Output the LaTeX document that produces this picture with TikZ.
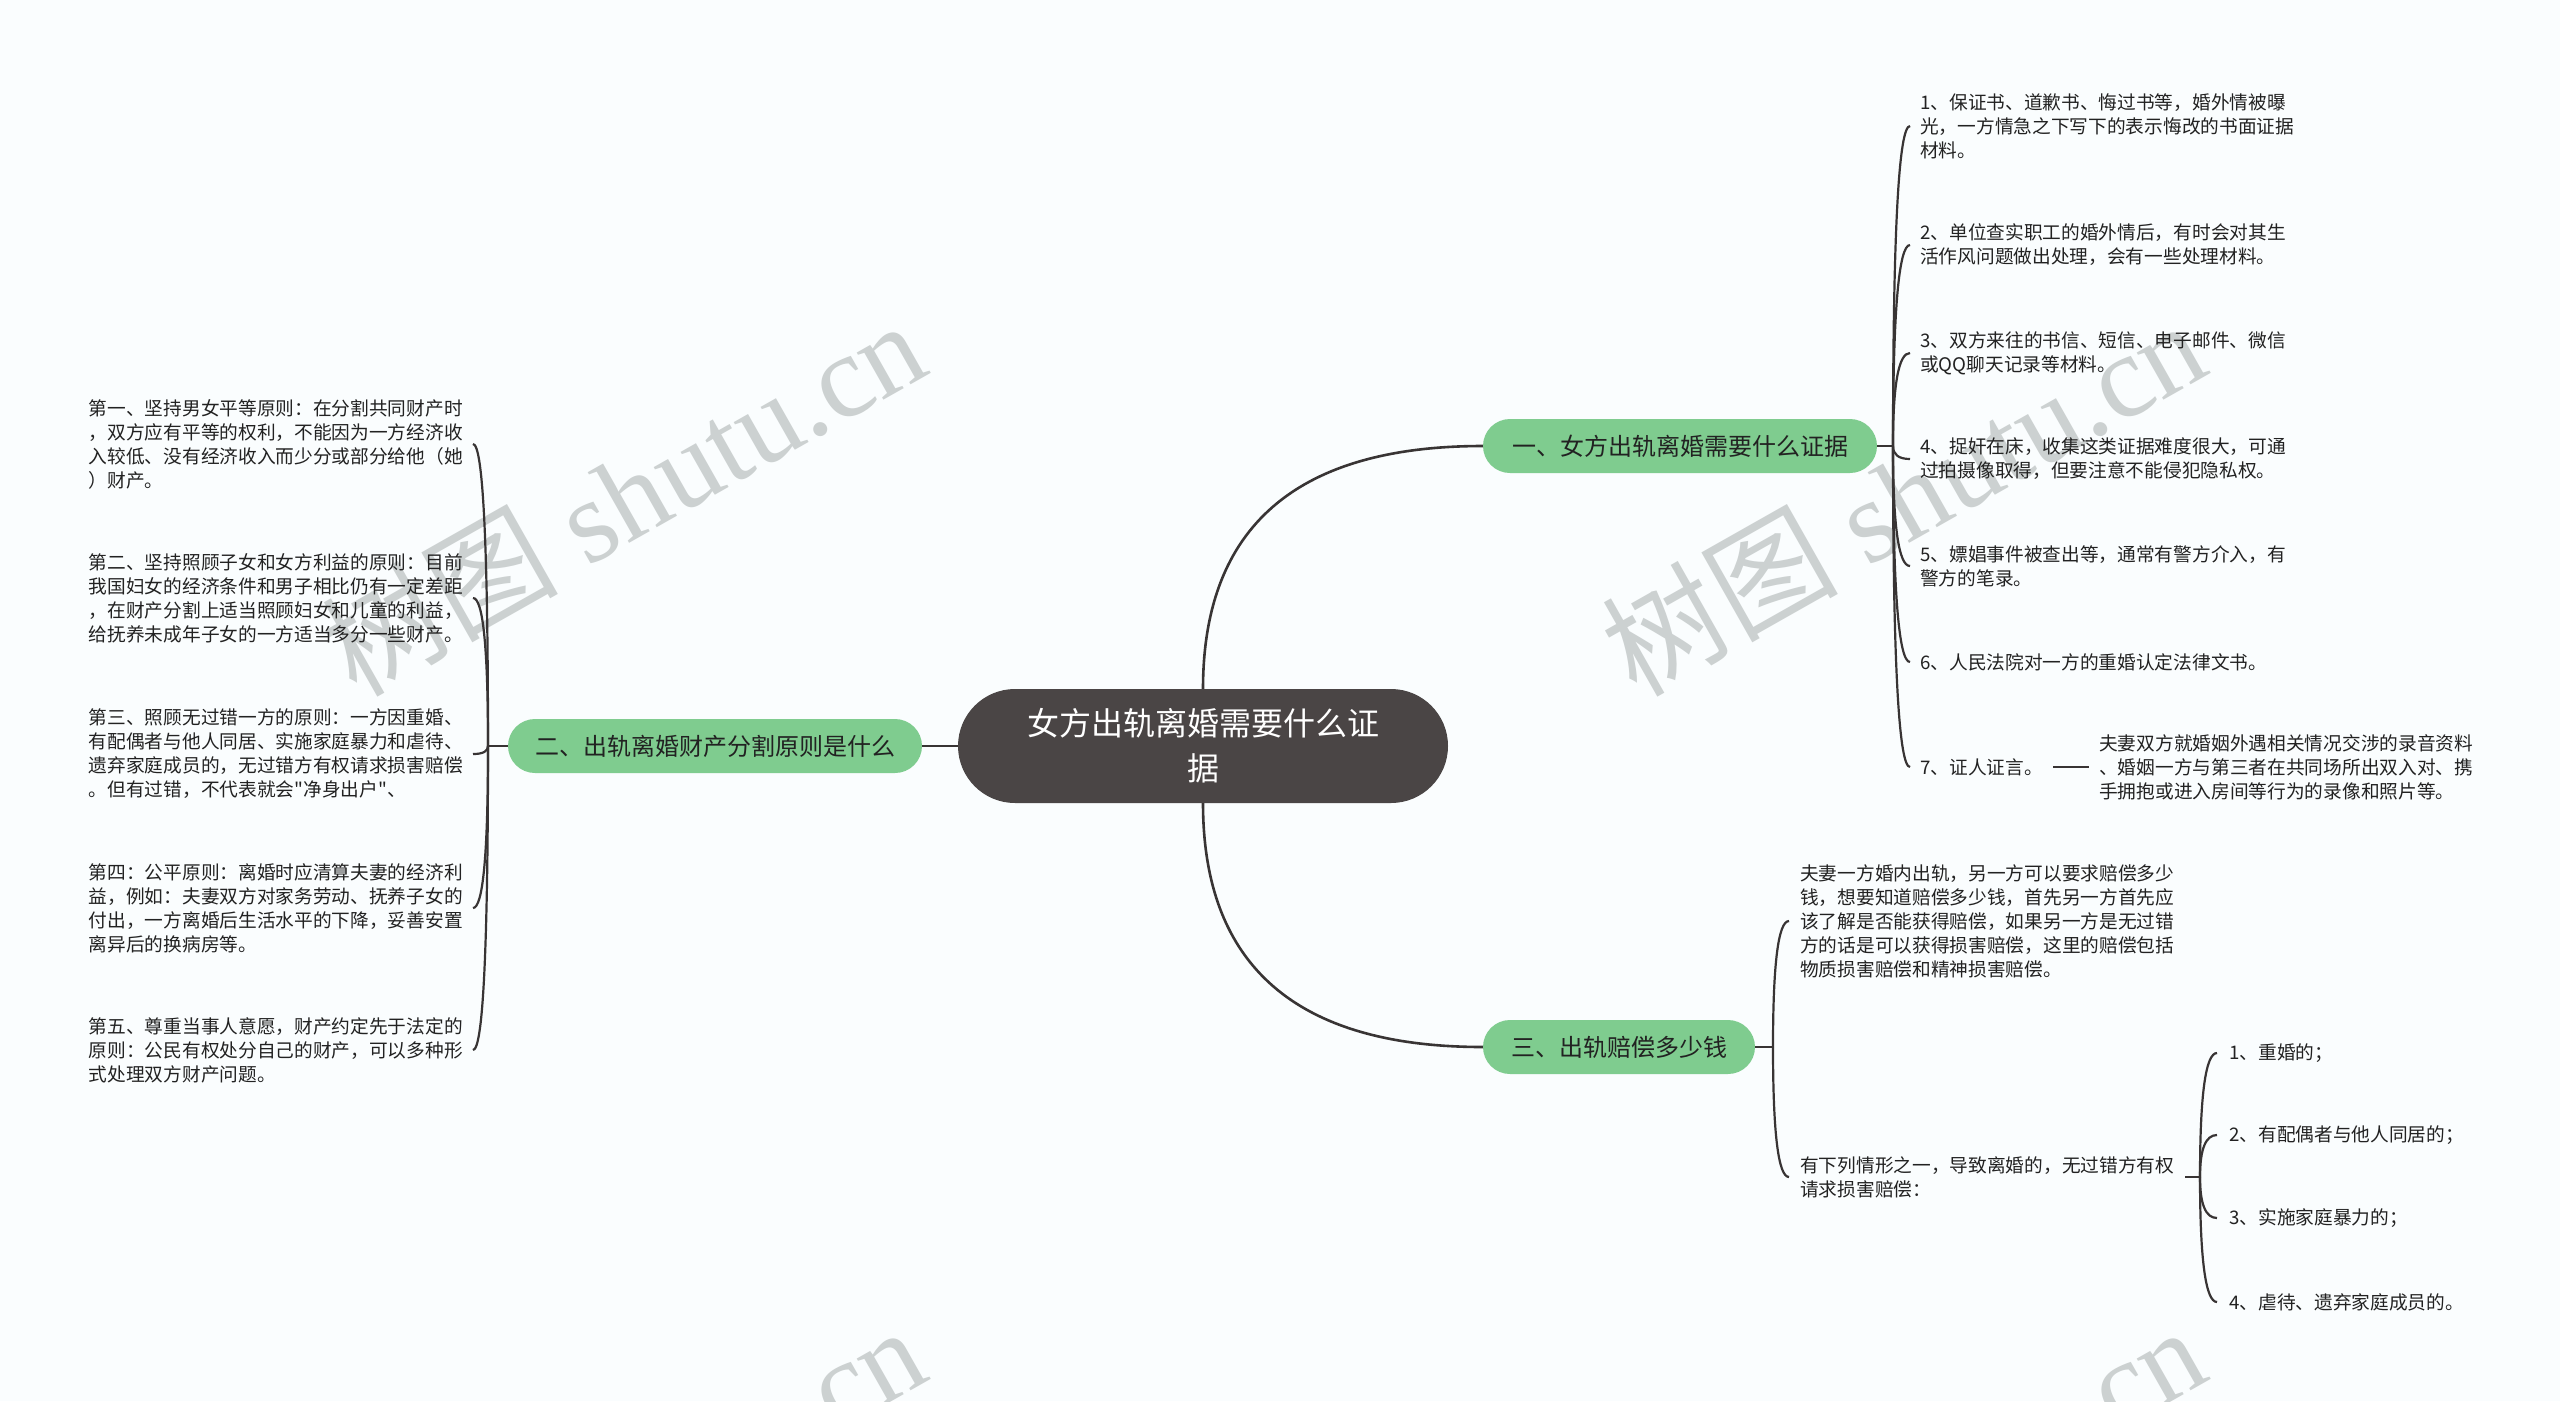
\documentclass[tikz,border=0pt]{standalone}
\usepackage{fontspec}
\newfontfamily\cjk{Noto Sans CJK SC}
\newfontfamily\wmserif{Liberation Serif}
\usetikzlibrary{calc}
\definecolor{bg}{RGB}{250,253,254}
\definecolor{pillgreen}{RGB}{127,204,143}
\definecolor{rootfill}{RGB}{74,69,69}
\definecolor{linec}{RGB}{56,52,52}
\definecolor{wm}{RGB}{204,209,209}
\definecolor{txt}{RGB}{34,34,34}
\tikzset{
  root/.style={rectangle, rounded corners=57pt, fill=rootfill, text=white, minimum width=490pt, minimum height=114pt, align=center, inner sep=0pt, font=\cjk\fontsize{32}{45}\selectfont},
  pill/.style={rectangle, rounded corners=27pt, fill=pillgreen, text=txt, minimum height=54pt, inner xsep=20pt, inner ysep=0pt, font=\cjk\fontsize{24}{28}\selectfont},
  leaf/.style={align=left, inner xsep=10pt, inner ysep=2pt, text=txt, font=\cjk\fontsize{18.7}{24}\selectfont},
  conn/.style={draw=linec, line width=2.6pt},
  hook/.style={draw=linec, line width=2.2pt},
  wmark/.style={text=wm, rotate=29.5, anchor=base, inner sep=0pt, font=\wmserif\fontsize{118}{118}\selectfont},
}
\newcommand\qlink[3][hook]{\draw[#1] (#2) .. controls ($(#2)!0.6667!(#2|-#3)$) and ($(#3)!0.6667!(#2|-#3)$) .. (#3);}
\begin{document}
\begin{tikzpicture}[x=1pt,y=-1pt]
\fill[bg] (0,0) rectangle (2560,1401);
\useasboundingbox (0,0) rectangle (2560,1401);
% watermarks
\begin{scope}
\clip (0,0) rectangle (2560,1401);
\node[wmark] (wm1) at (645,535) {{\cjk 树图} shutu.cn};
\node[wmark] (wm2) at (1925,535) {{\cjk 树图} shutu.cn};
\node[wmark] (wm3) at (645,1541) {{\cjk 树图} shutu.cn};
\node[wmark] (wm4) at (1925,1541) {{\cjk 树图} shutu.cn};
\end{scope}
% main nodes
\node[root] (root) at (1203,746) {女方出轨离婚需要什么证\\据};
\node[pill, minimum width=394pt] (b1) at (1680,446) {一、女方出轨离婚需要什么证据};
\node[pill, minimum width=414pt] (b2) at (715,746) {二、出轨离婚财产分割原则是什么};
\node[pill, minimum width=272pt] (b3) at (1619,1047) {三、出轨赔偿多少钱};
% junctions
\coordinate (j1) at (1893,446);
\coordinate (j2) at (488,746);
\coordinate (j3) at (1773,1047);
% branch 1 leaves
\node[leaf, anchor=west] (r1) at (1910,126) {1、保证书、道歉书、悔过书等，婚外情被曝\\光，一方情急之下写下的表示悔改的书面证据\\材料。};
\node[leaf, anchor=west] (r2) at (1910,245) {2、单位查实职工的婚外情后，有时会对其生\\活作风问题做出处理，会有一些处理材料。};
\node[leaf, anchor=west] (r3) at (1910,353) {3、双方来往的书信、短信、电子邮件、微信\\或QQ聊天记录等材料。};
\node[leaf, anchor=west] (r4) at (1910,459) {4、捉奸在床，收集这类证据难度很大，可通\\过拍摄像取得，但要注意不能侵犯隐私权。};
\node[leaf, anchor=west] (r5) at (1910,566) {5、嫖娼事件被查出等，通常有警方介入，有\\警方的笔录。};
\node[leaf, anchor=west] (r6) at (1910,662) {6、人民法院对一方的重婚认定法律文书。};
\node[leaf, anchor=west] (r7) at (1910,767) {7、证人证言。};
\node[leaf, anchor=west] (r7c) at (2089,767) {夫妻双方就婚姻外遇相关情况交涉的录音资料\\、婚姻一方与第三者在共同场所出双入对、携\\手拥抱或进入房间等行为的录像和照片等。};
% branch 2 leaves
\node[leaf, anchor=east] (l1) at (473,444) {第一、坚持男女平等原则：在分割共同财产时\\，双方应有平等的权利，不能因为一方经济收\\入较低、没有经济收入而少分或部分给他（她\\）财产。};
\node[leaf, anchor=east] (l2) at (473,598) {第二、坚持照顾子女和女方利益的原则：目前\\我国妇女的经济条件和男子相比仍有一定差距\\，在财产分割上适当照顾妇女和儿童的利益，\\给抚养未成年子女的一方适当多分一些财产。};
\node[leaf, anchor=east] (l3) at (473,754) {第三、照顾无过错一方的原则：一方因重婚、\\有配偶者与他人同居、实施家庭暴力和虐待、\\遗弃家庭成员的，无过错方有权请求损害赔偿\\。但有过错，不代表就会"净身出户"、};
\node[leaf, anchor=east] (l4) at (473,908) {第四：公平原则：离婚时应清算夫妻的经济利\\益，例如：夫妻双方对家务劳动、抚养子女的\\付出，一方离婚后生活水平的下降，妥善安置\\离异后的换病房等。};
\node[leaf, anchor=east] (l5) at (473,1050) {第五、尊重当事人意愿，财产约定先于法定的\\原则：公民有权处分自己的财产，可以多种形\\式处理双方财产问题。};
% branch 3 leaves
\node[leaf, anchor=west, inner xsep=11pt] (c1) at (1789,921) {夫妻一方婚内出轨，另一方可以要求赔偿多少\\钱，想要知道赔偿多少钱，首先另一方首先应\\该了解是否能获得赔偿，如果另一方是无过错\\方的话是可以获得损害赔偿，这里的赔偿包括\\物质损害赔偿和精神损害赔偿。};
\node[leaf, anchor=west, inner xsep=11pt] (c2) at (1789,1177) {有下列情形之一，导致离婚的，无过错方有权\\请求损害赔偿：};
\coordinate (j4) at (2200,1177);
\node[leaf, anchor=west, inner xsep=12pt] (d1) at (2217,1053) {1、重婚的；};
\node[leaf, anchor=west, inner xsep=12pt] (d2) at (2217,1135) {2、有配偶者与他人同居的；};
\node[leaf, anchor=west, inner xsep=12pt] (d3) at (2217,1218) {3、实施家庭暴力的；};
\node[leaf, anchor=west, inner xsep=12pt] (d4) at (2217,1302) {4、虐待、遗弃家庭成员的。};
% main connectors
\qlink[conn]{root.north}{b1.west}
\qlink[conn]{root.south}{b3.west}
\draw[conn] (root.west) -- (b2.east);
% stubs
\draw[conn] (b1.east) -- (j1);
\draw[conn] (b2.west) -- (j2);
\draw[conn] (b3.east) -- (j3);
\draw[hook] (c2.east) -- (j4);
\draw[hook] (r7.east) -- (r7c.west);
% brackets
\foreach \n in {r1,r2,r3,r4,r5,r6,r7} {\qlink{j1}{\n.west}}
\foreach \n in {l1,l2,l3,l4,l5} {\qlink{j2}{\n.east}}
\foreach \n in {c1,c2} {\qlink{j3}{\n.west}}
\foreach \n in {d1,d2,d3,d4} {\qlink{j4}{\n.west}}
\end{tikzpicture}
\end{document}
